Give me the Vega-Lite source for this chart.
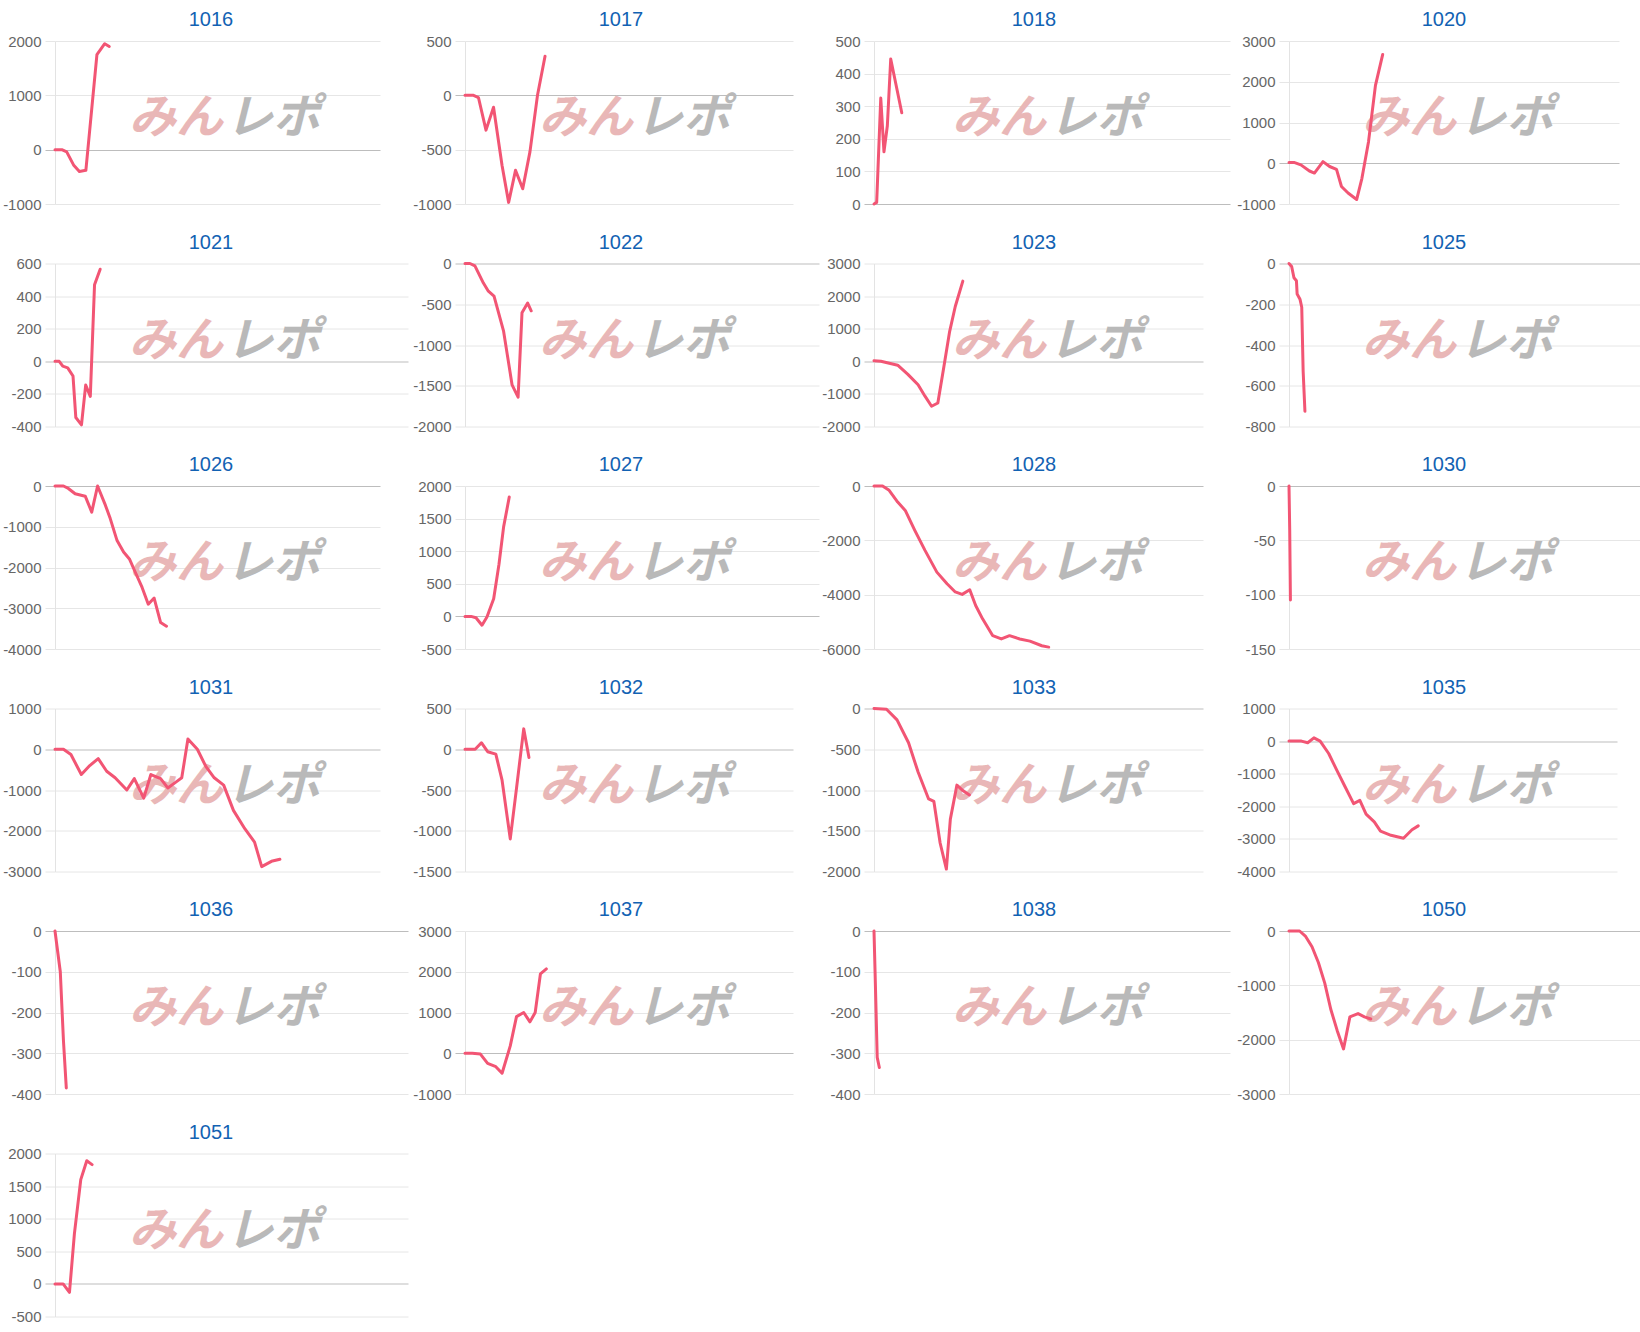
{
"$schema": "https://vega.github.io/schema/vega-lite/v6.json",
"padding": {"top": 10, "left": 0, "right": 0, "bottom": 0},
"background": "white",
"columns": 4,
"align": "each",
"spacing": {"row": 20.5, "column": 2},
"config": {
  "view": {"stroke": null},
  "font": "Liberation Sans",
  "title": {"fontSize": 20, "color": "#1262b3", "fontWeight": "normal", "font": "Liberation Sans", "baseline": "alphabetic", "offset": 4, "anchor": "middle", "frame": "group"},
  "line": {"color": "#f25574", "strokeWidth": 3, "strokeJoin": "round", "strokeCap": "round"},
  "text": {"font": "Noto Sans CJK JP", "fontSize": 47, "fontWeight": "bold", "fontStyle": "italic", "align": "center", "baseline": "middle"}
},
"concat": [
{"width": 325, "height": 163, "title": {"text": "1016", "dx": -6.5}, "resolve": {"axis": {"y": "independent"}},
 "layer": [
  {"data": {"values": [{"label": "みん"}]}, "mark": {"type": "text", "color": "#e9b7b7"}, "encoding": {"text": {"field": "label"}, "x": {"datum": 37.2, "type": "quantitative", "axis": null}, "y": {"datum": 560, "type": "quantitative", "axis": null}}},
  {"data": {"values": [{"label": "レポ"}]}, "mark": {"type": "text", "color": "#b9b9b9"}, "encoding": {"text": {"field": "label"}, "x": {"datum": 67.1, "type": "quantitative", "axis": null}, "y": {"datum": 560, "type": "quantitative", "axis": null}}},
  {"data": {"values": [{"x":0,"y":0},{"x":2.1,"y":0},{"x":3.6,"y":-40},{"x":5.7,"y":-280},{"x":7.5,"y":-400},{"x":9.5,"y":-380},{"x":12.9,"y":1750},{"x":15.3,"y":1950},{"x":16.7,"y":1900}]},
   "mark": {"type": "line"},
   "encoding": {"x": {"field": "x", "type": "quantitative", "scale": {"domain": [0, 100]}, "axis": null},
    "y": {"field": "y", "type": "quantitative", "scale": {"domain": [-1000, 2000], "nice": false, "zero": false},
     "axis": {"orient": "left", "title": null, "values": [-1000, 0, 1000, 2000], "labelExpr": "'' + datum.value", "grid": true, "gridColor": {"condition": {"test": "datum.value === 0", "value": "#bdbdbd"}, "value": "#e6e6e6"}, "tickColor": {"condition": {"test": "datum.value === 0", "value": "#bdbdbd"}, "value": "#e6e6e6"}, "tickSize": 10, "domainColor": "#e3e3e3", "labelFontSize": 15, "labelColor": "#666666", "labelPadding": 4, "labelFont": "Liberation Sans", "labelOverlap": false, "minExtent": 55, "maxExtent": 55}}}}
 ]},
{"width": 328, "height": 163, "title": {"text": "1017", "dx": -8}, "resolve": {"axis": {"y": "independent"}},
 "layer": [
  {"data": {"values": [{"label": "みん"}]}, "mark": {"type": "text", "color": "#e9b7b7"}, "encoding": {"text": {"field": "label"}, "x": {"datum": 36.9, "type": "quantitative", "axis": null}, "y": {"datum": -220, "type": "quantitative", "axis": null}}},
  {"data": {"values": [{"label": "レポ"}]}, "mark": {"type": "text", "color": "#b9b9b9"}, "encoding": {"text": {"field": "label"}, "x": {"datum": 66.5, "type": "quantitative", "axis": null}, "y": {"datum": -220, "type": "quantitative", "axis": null}}},
  {"data": {"values": [{"x":0,"y":0},{"x":2.6,"y":0},{"x":4.1,"y":-20},{"x":6.4,"y":-320},{"x":8.7,"y":-110},{"x":11.3,"y":-645},{"x":13.3,"y":-985},{"x":15.4,"y":-690},{"x":17.6,"y":-860},{"x":19.8,"y":-520},{"x":22.1,"y":0},{"x":24.4,"y":360}]},
   "mark": {"type": "line"},
   "encoding": {"x": {"field": "x", "type": "quantitative", "scale": {"domain": [0, 100]}, "axis": null},
    "y": {"field": "y", "type": "quantitative", "scale": {"domain": [-1000, 500], "nice": false, "zero": false},
     "axis": {"orient": "left", "title": null, "values": [-1000, -500, 0, 500], "labelExpr": "'' + datum.value", "grid": true, "gridColor": {"condition": {"test": "datum.value === 0", "value": "#bdbdbd"}, "value": "#e6e6e6"}, "tickColor": {"condition": {"test": "datum.value === 0", "value": "#bdbdbd"}, "value": "#e6e6e6"}, "tickSize": 10, "domainColor": "#e3e3e3", "labelFontSize": 15, "labelColor": "#666666", "labelPadding": 4, "labelFont": "Liberation Sans", "labelOverlap": false, "minExtent": 55, "maxExtent": 55}}}}
 ]},
{"width": 356, "height": 163, "title": {"text": "1018", "dx": -18}, "resolve": {"axis": {"y": "independent"}},
 "layer": [
  {"data": {"values": [{"label": "みん"}]}, "mark": {"type": "text", "color": "#e9b7b7"}, "encoding": {"text": {"field": "label"}, "x": {"datum": 35.1, "type": "quantitative", "axis": null}, "y": {"datum": 260, "type": "quantitative", "axis": null}}},
  {"data": {"values": [{"label": "レポ"}]}, "mark": {"type": "text", "color": "#b9b9b9"}, "encoding": {"text": {"field": "label"}, "x": {"datum": 62.4, "type": "quantitative", "axis": null}, "y": {"datum": 260, "type": "quantitative", "axis": null}}},
  {"data": {"values": [{"x":0,"y":0},{"x":0.75,"y":5},{"x":1.9,"y":325},{"x":2.8,"y":160},{"x":3.75,"y":240},{"x":4.7,"y":445},{"x":7.8,"y":280}]},
   "mark": {"type": "line"},
   "encoding": {"x": {"field": "x", "type": "quantitative", "scale": {"domain": [0, 100]}, "axis": null},
    "y": {"field": "y", "type": "quantitative", "scale": {"domain": [0, 500], "nice": false, "zero": false},
     "axis": {"orient": "left", "title": null, "values": [0, 100, 200, 300, 400, 500], "labelExpr": "'' + datum.value", "grid": true, "gridColor": {"condition": {"test": "datum.value === 0", "value": "#bdbdbd"}, "value": "#e6e6e6"}, "tickColor": {"condition": {"test": "datum.value === 0", "value": "#bdbdbd"}, "value": "#e6e6e6"}, "tickSize": 10, "domainColor": "#e3e3e3", "labelFontSize": 15, "labelColor": "#666666", "labelPadding": 4, "labelFont": "Liberation Sans", "labelOverlap": false, "minExtent": 50, "maxExtent": 50}}}}
 ]},
{"width": 330, "height": 163, "title": {"text": "1020", "dx": -10}, "resolve": {"axis": {"y": "independent"}},
 "layer": [
  {"data": {"values": [{"label": "みん"}]}, "mark": {"type": "text", "color": "#e9b7b7"}, "encoding": {"text": {"field": "label"}, "x": {"datum": 36.4, "type": "quantitative", "axis": null}, "y": {"datum": 1080, "type": "quantitative", "axis": null}}},
  {"data": {"values": [{"label": "レポ"}]}, "mark": {"type": "text", "color": "#b9b9b9"}, "encoding": {"text": {"field": "label"}, "x": {"datum": 65.8, "type": "quantitative", "axis": null}, "y": {"datum": 1080, "type": "quantitative", "axis": null}}},
  {"data": {"values": [{"x":0,"y":20},{"x":1.5,"y":20},{"x":3.6,"y":-40},{"x":6.2,"y":-190},{"x":7.7,"y":-240},{"x":10.3,"y":40},{"x":12.3,"y":-80},{"x":14.4,"y":-150},{"x":15.9,"y":-570},{"x":17.9,"y":-730},{"x":20.5,"y":-890},{"x":22.1,"y":-370},{"x":24.1,"y":530},{"x":26.2,"y":1910},{"x":28.4,"y":2670}]},
   "mark": {"type": "line"},
   "encoding": {"x": {"field": "x", "type": "quantitative", "scale": {"domain": [0, 100]}, "axis": null},
    "y": {"field": "y", "type": "quantitative", "scale": {"domain": [-1000, 3000], "nice": false, "zero": false},
     "axis": {"orient": "left", "title": null, "values": [-1000, 0, 1000, 2000, 3000], "labelExpr": "'' + datum.value", "grid": true, "gridColor": {"condition": {"test": "datum.value === 0", "value": "#bdbdbd"}, "value": "#e6e6e6"}, "tickColor": {"condition": {"test": "datum.value === 0", "value": "#bdbdbd"}, "value": "#e6e6e6"}, "tickSize": 10, "domainColor": "#e3e3e3", "labelFontSize": 15, "labelColor": "#666666", "labelPadding": 4, "labelFont": "Liberation Sans", "labelOverlap": false, "minExtent": 57, "maxExtent": 57}}}}
 ]},
{"width": 353, "height": 163, "title": {"text": "1021", "dx": -20.5}, "resolve": {"axis": {"y": "independent"}},
 "layer": [
  {"data": {"values": [{"label": "みん"}]}, "mark": {"type": "text", "color": "#e9b7b7"}, "encoding": {"text": {"field": "label"}, "x": {"datum": 34.3, "type": "quantitative", "axis": null}, "y": {"datum": 120, "type": "quantitative", "axis": null}}},
  {"data": {"values": [{"label": "レポ"}]}, "mark": {"type": "text", "color": "#b9b9b9"}, "encoding": {"text": {"field": "label"}, "x": {"datum": 61.8, "type": "quantitative", "axis": null}, "y": {"datum": 120, "type": "quantitative", "axis": null}}},
  {"data": {"values": [{"x":0,"y":0},{"x":1.2,"y":0},{"x":2.2,"y":-30},{"x":3.6,"y":-40},{"x":5.1,"y":-90},{"x":5.9,"y":-345},{"x":7.5,"y":-390},{"x":8.7,"y":-145},{"x":10.0,"y":-215},{"x":11.2,"y":470},{"x":12.8,"y":565}]},
   "mark": {"type": "line"},
   "encoding": {"x": {"field": "x", "type": "quantitative", "scale": {"domain": [0, 100]}, "axis": null},
    "y": {"field": "y", "type": "quantitative", "scale": {"domain": [-400, 600], "nice": false, "zero": false},
     "axis": {"orient": "left", "title": null, "values": [-400, -200, 0, 200, 400, 600], "labelExpr": "'' + datum.value", "grid": true, "gridColor": {"condition": {"test": "datum.value === 0", "value": "#bdbdbd"}, "value": "#e6e6e6"}, "tickColor": {"condition": {"test": "datum.value === 0", "value": "#bdbdbd"}, "value": "#e6e6e6"}, "tickSize": 10, "domainColor": "#e3e3e3", "labelFontSize": 15, "labelColor": "#666666", "labelPadding": 4, "labelFont": "Liberation Sans", "labelOverlap": false, "minExtent": 55, "maxExtent": 55}}}}
 ]},
{"width": 354, "height": 163, "title": {"text": "1022", "dx": -21}, "resolve": {"axis": {"y": "independent"}},
 "layer": [
  {"data": {"values": [{"label": "みん"}]}, "mark": {"type": "text", "color": "#e9b7b7"}, "encoding": {"text": {"field": "label"}, "x": {"datum": 34.2, "type": "quantitative", "axis": null}, "y": {"datum": -960, "type": "quantitative", "axis": null}}},
  {"data": {"values": [{"label": "レポ"}]}, "mark": {"type": "text", "color": "#b9b9b9"}, "encoding": {"text": {"field": "label"}, "x": {"datum": 61.6, "type": "quantitative", "axis": null}, "y": {"datum": -960, "type": "quantitative", "axis": null}}},
  {"data": {"values": [{"x":0,"y":0},{"x":1.4,"y":0},{"x":2.8,"y":-30},{"x":5.2,"y":-240},{"x":6.6,"y":-340},{"x":8.2,"y":-400},{"x":10.9,"y":-830},{"x":13.3,"y":-1490},{"x":15.0,"y":-1640},{"x":16.1,"y":-605},{"x":17.7,"y":-485},{"x":18.7,"y":-580}]},
   "mark": {"type": "line"},
   "encoding": {"x": {"field": "x", "type": "quantitative", "scale": {"domain": [0, 100]}, "axis": null},
    "y": {"field": "y", "type": "quantitative", "scale": {"domain": [-2000, 0], "nice": false, "zero": false},
     "axis": {"orient": "left", "title": null, "values": [-2000, -1500, -1000, -500, 0], "labelExpr": "'' + datum.value", "grid": true, "gridColor": {"condition": {"test": "datum.value === 0", "value": "#bdbdbd"}, "value": "#e6e6e6"}, "tickColor": {"condition": {"test": "datum.value === 0", "value": "#bdbdbd"}, "value": "#e6e6e6"}, "tickSize": 10, "domainColor": "#e3e3e3", "labelFontSize": 15, "labelColor": "#666666", "labelPadding": 4, "labelFont": "Liberation Sans", "labelOverlap": false, "minExtent": 55, "maxExtent": 55}}}}
 ]},
{"width": 329, "height": 163, "title": {"text": "1023", "dx": -4.5}, "resolve": {"axis": {"y": "independent"}},
 "layer": [
  {"data": {"values": [{"label": "みん"}]}, "mark": {"type": "text", "color": "#e9b7b7"}, "encoding": {"text": {"field": "label"}, "x": {"datum": 38.0, "type": "quantitative", "axis": null}, "y": {"datum": 600, "type": "quantitative", "axis": null}}},
  {"data": {"values": [{"label": "レポ"}]}, "mark": {"type": "text", "color": "#b9b9b9"}, "encoding": {"text": {"field": "label"}, "x": {"datum": 67.5, "type": "quantitative", "axis": null}, "y": {"datum": 600, "type": "quantitative", "axis": null}}},
  {"data": {"values": [{"x":0,"y":20},{"x":2.1,"y":0},{"x":7.2,"y":-120},{"x":10.3,"y":-400},{"x":13.4,"y":-720},{"x":15.5,"y":-1070},{"x":17.5,"y":-1380},{"x":19.4,"y":-1280},{"x":21.1,"y":-250},{"x":23.0,"y":920},{"x":24.7,"y":1680},{"x":27.0,"y":2460}]},
   "mark": {"type": "line"},
   "encoding": {"x": {"field": "x", "type": "quantitative", "scale": {"domain": [0, 100]}, "axis": null},
    "y": {"field": "y", "type": "quantitative", "scale": {"domain": [-2000, 3000], "nice": false, "zero": false},
     "axis": {"orient": "left", "title": null, "values": [-2000, -1000, 0, 1000, 2000, 3000], "labelExpr": "'' + datum.value", "grid": true, "gridColor": {"condition": {"test": "datum.value === 0", "value": "#bdbdbd"}, "value": "#e6e6e6"}, "tickColor": {"condition": {"test": "datum.value === 0", "value": "#bdbdbd"}, "value": "#e6e6e6"}, "tickSize": 10, "domainColor": "#e3e3e3", "labelFontSize": 15, "labelColor": "#666666", "labelPadding": 4, "labelFont": "Liberation Sans", "labelOverlap": false, "minExtent": 50, "maxExtent": 50}}}}
 ]},
{"width": 354, "height": 163, "title": {"text": "1025", "dx": -22}, "resolve": {"axis": {"y": "independent"}},
 "layer": [
  {"data": {"values": [{"label": "みん"}]}, "mark": {"type": "text", "color": "#e9b7b7"}, "encoding": {"text": {"field": "label"}, "x": {"datum": 33.9, "type": "quantitative", "axis": null}, "y": {"datum": -384, "type": "quantitative", "axis": null}}},
  {"data": {"values": [{"label": "レポ"}]}, "mark": {"type": "text", "color": "#b9b9b9"}, "encoding": {"text": {"field": "label"}, "x": {"datum": 61.3, "type": "quantitative", "axis": null}, "y": {"datum": -384, "type": "quantitative", "axis": null}}},
  {"data": {"values": [{"x":0,"y":0},{"x":0.75,"y":-15},{"x":1.4,"y":-70},{"x":2.1,"y":-85},{"x":2.3,"y":-150},{"x":3.1,"y":-175},{"x":3.6,"y":-215},{"x":4.0,"y":-530},{"x":4.5,"y":-725}]},
   "mark": {"type": "line"},
   "encoding": {"x": {"field": "x", "type": "quantitative", "scale": {"domain": [0, 100]}, "axis": null},
    "y": {"field": "y", "type": "quantitative", "scale": {"domain": [-800, 0], "nice": false, "zero": false},
     "axis": {"orient": "left", "title": null, "values": [-800, -600, -400, -200, 0], "labelExpr": "'' + datum.value", "grid": true, "gridColor": {"condition": {"test": "datum.value === 0", "value": "#bdbdbd"}, "value": "#e6e6e6"}, "tickColor": {"condition": {"test": "datum.value === 0", "value": "#bdbdbd"}, "value": "#e6e6e6"}, "tickSize": 10, "domainColor": "#e3e3e3", "labelFontSize": 15, "labelColor": "#666666", "labelPadding": 4, "labelFont": "Liberation Sans", "labelOverlap": false, "minExtent": 57, "maxExtent": 57}}}}
 ]},
{"width": 325, "height": 163, "title": {"text": "1026", "dx": -6.5}, "resolve": {"axis": {"y": "independent"}},
 "layer": [
  {"data": {"values": [{"label": "みん"}]}, "mark": {"type": "text", "color": "#e9b7b7"}, "encoding": {"text": {"field": "label"}, "x": {"datum": 37.2, "type": "quantitative", "axis": null}, "y": {"datum": -1920, "type": "quantitative", "axis": null}}},
  {"data": {"values": [{"label": "レポ"}]}, "mark": {"type": "text", "color": "#b9b9b9"}, "encoding": {"text": {"field": "label"}, "x": {"datum": 67.1, "type": "quantitative", "axis": null}, "y": {"datum": -1920, "type": "quantitative", "axis": null}}},
  {"data": {"values": [{"x":0,"y":0},{"x":2.6,"y":0},{"x":4.1,"y":-60},{"x":6.2,"y":-190},{"x":9.3,"y":-250},{"x":11.3,"y":-640},{"x":13.1,"y":0},{"x":15.5,"y":-470},{"x":17.0,"y":-800},{"x":19.1,"y":-1340},{"x":21.1,"y":-1620},{"x":22.9,"y":-1790},{"x":24.5,"y":-2080},{"x":26.8,"y":-2490},{"x":28.7,"y":-2900},{"x":30.5,"y":-2750},{"x":32.5,"y":-3350},{"x":34.3,"y":-3440}]},
   "mark": {"type": "line"},
   "encoding": {"x": {"field": "x", "type": "quantitative", "scale": {"domain": [0, 100]}, "axis": null},
    "y": {"field": "y", "type": "quantitative", "scale": {"domain": [-4000, 0], "nice": false, "zero": false},
     "axis": {"orient": "left", "title": null, "values": [-4000, -3000, -2000, -1000, 0], "labelExpr": "'' + datum.value", "grid": true, "gridColor": {"condition": {"test": "datum.value === 0", "value": "#bdbdbd"}, "value": "#e6e6e6"}, "tickColor": {"condition": {"test": "datum.value === 0", "value": "#bdbdbd"}, "value": "#e6e6e6"}, "tickSize": 10, "domainColor": "#e3e3e3", "labelFontSize": 15, "labelColor": "#666666", "labelPadding": 4, "labelFont": "Liberation Sans", "labelOverlap": false, "minExtent": 55, "maxExtent": 55}}}}
 ]},
{"width": 354, "height": 163, "title": {"text": "1027", "dx": -21}, "resolve": {"axis": {"y": "independent"}},
 "layer": [
  {"data": {"values": [{"label": "みん"}]}, "mark": {"type": "text", "color": "#e9b7b7"}, "encoding": {"text": {"field": "label"}, "x": {"datum": 34.2, "type": "quantitative", "axis": null}, "y": {"datum": 800, "type": "quantitative", "axis": null}}},
  {"data": {"values": [{"label": "レポ"}]}, "mark": {"type": "text", "color": "#b9b9b9"}, "encoding": {"text": {"field": "label"}, "x": {"datum": 61.6, "type": "quantitative", "axis": null}, "y": {"datum": 800, "type": "quantitative", "axis": null}}},
  {"data": {"values": [{"x":0,"y":0},{"x":1.7,"y":0},{"x":3.1,"y":-20},{"x":4.8,"y":-135},{"x":6.2,"y":-10},{"x":8.1,"y":270},{"x":9.6,"y":800},{"x":10.9,"y":1370},{"x":12.5,"y":1830}]},
   "mark": {"type": "line"},
   "encoding": {"x": {"field": "x", "type": "quantitative", "scale": {"domain": [0, 100]}, "axis": null},
    "y": {"field": "y", "type": "quantitative", "scale": {"domain": [-500, 2000], "nice": false, "zero": false},
     "axis": {"orient": "left", "title": null, "values": [-500, 0, 500, 1000, 1500, 2000], "labelExpr": "'' + datum.value", "grid": true, "gridColor": {"condition": {"test": "datum.value === 0", "value": "#bdbdbd"}, "value": "#e6e6e6"}, "tickColor": {"condition": {"test": "datum.value === 0", "value": "#bdbdbd"}, "value": "#e6e6e6"}, "tickSize": 10, "domainColor": "#e3e3e3", "labelFontSize": 15, "labelColor": "#666666", "labelPadding": 4, "labelFont": "Liberation Sans", "labelOverlap": false, "minExtent": 55, "maxExtent": 55}}}}
 ]},
{"width": 329, "height": 163, "title": {"text": "1028", "dx": -4.5}, "resolve": {"axis": {"y": "independent"}},
 "layer": [
  {"data": {"values": [{"label": "みん"}]}, "mark": {"type": "text", "color": "#e9b7b7"}, "encoding": {"text": {"field": "label"}, "x": {"datum": 38.0, "type": "quantitative", "axis": null}, "y": {"datum": -2880, "type": "quantitative", "axis": null}}},
  {"data": {"values": [{"label": "レポ"}]}, "mark": {"type": "text", "color": "#b9b9b9"}, "encoding": {"text": {"field": "label"}, "x": {"datum": 67.5, "type": "quantitative", "axis": null}, "y": {"datum": -2880, "type": "quantitative", "axis": null}}},
  {"data": {"values": [{"x":0,"y":0},{"x":2.6,"y":0},{"x":4.6,"y":-160},{"x":7.2,"y":-590},{"x":9.5,"y":-900},{"x":12.4,"y":-1630},{"x":15.5,"y":-2370},{"x":19.1,"y":-3170},{"x":22.2,"y":-3600},{"x":24.7,"y":-3900},{"x":26.8,"y":-3990},{"x":29.1,"y":-3820},{"x":30.9,"y":-4400},{"x":33.0,"y":-4890},{"x":36.1,"y":-5510},{"x":38.7,"y":-5630},{"x":41.2,"y":-5510},{"x":44.3,"y":-5630},{"x":47.4,"y":-5710},{"x":51.0,"y":-5880},{"x":53.1,"y":-5930}]},
   "mark": {"type": "line"},
   "encoding": {"x": {"field": "x", "type": "quantitative", "scale": {"domain": [0, 100]}, "axis": null},
    "y": {"field": "y", "type": "quantitative", "scale": {"domain": [-6000, 0], "nice": false, "zero": false},
     "axis": {"orient": "left", "title": null, "values": [-6000, -4000, -2000, 0], "labelExpr": "'' + datum.value", "grid": true, "gridColor": {"condition": {"test": "datum.value === 0", "value": "#bdbdbd"}, "value": "#e6e6e6"}, "tickColor": {"condition": {"test": "datum.value === 0", "value": "#bdbdbd"}, "value": "#e6e6e6"}, "tickSize": 10, "domainColor": "#e3e3e3", "labelFontSize": 15, "labelColor": "#666666", "labelPadding": 4, "labelFont": "Liberation Sans", "labelOverlap": false, "minExtent": 50, "maxExtent": 50}}}}
 ]},
{"width": 354, "height": 163, "title": {"text": "1030", "dx": -22}, "resolve": {"axis": {"y": "independent"}},
 "layer": [
  {"data": {"values": [{"label": "みん"}]}, "mark": {"type": "text", "color": "#e9b7b7"}, "encoding": {"text": {"field": "label"}, "x": {"datum": 33.9, "type": "quantitative", "axis": null}, "y": {"datum": -72, "type": "quantitative", "axis": null}}},
  {"data": {"values": [{"label": "レポ"}]}, "mark": {"type": "text", "color": "#b9b9b9"}, "encoding": {"text": {"field": "label"}, "x": {"datum": 61.3, "type": "quantitative", "axis": null}, "y": {"datum": -72, "type": "quantitative", "axis": null}}},
  {"data": {"values": [{"x":0,"y":0},{"x":0.2,"y":-40},{"x":0.4,"y":-105}]},
   "mark": {"type": "line"},
   "encoding": {"x": {"field": "x", "type": "quantitative", "scale": {"domain": [0, 100]}, "axis": null},
    "y": {"field": "y", "type": "quantitative", "scale": {"domain": [-150, 0], "nice": false, "zero": false},
     "axis": {"orient": "left", "title": null, "values": [-150, -100, -50, 0], "labelExpr": "'' + datum.value", "grid": true, "gridColor": {"condition": {"test": "datum.value === 0", "value": "#bdbdbd"}, "value": "#e6e6e6"}, "tickColor": {"condition": {"test": "datum.value === 0", "value": "#bdbdbd"}, "value": "#e6e6e6"}, "tickSize": 10, "domainColor": "#e3e3e3", "labelFontSize": 15, "labelColor": "#666666", "labelPadding": 4, "labelFont": "Liberation Sans", "labelOverlap": false, "minExtent": 57, "maxExtent": 57}}}}
 ]},
{"width": 325, "height": 163, "title": {"text": "1031", "dx": -6.5}, "resolve": {"axis": {"y": "independent"}},
 "layer": [
  {"data": {"values": [{"label": "みん"}]}, "mark": {"type": "text", "color": "#e9b7b7"}, "encoding": {"text": {"field": "label"}, "x": {"datum": 37.2, "type": "quantitative", "axis": null}, "y": {"datum": -920, "type": "quantitative", "axis": null}}},
  {"data": {"values": [{"label": "レポ"}]}, "mark": {"type": "text", "color": "#b9b9b9"}, "encoding": {"text": {"field": "label"}, "x": {"datum": 67.1, "type": "quantitative", "axis": null}, "y": {"datum": -920, "type": "quantitative", "axis": null}}},
  {"data": {"values": [{"x":0,"y":0},{"x":2.6,"y":0},{"x":4.9,"y":-130},{"x":8.1,"y":-620},{"x":10.7,"y":-400},{"x":13.3,"y":-230},{"x":15.9,"y":-540},{"x":18.5,"y":-700},{"x":22.1,"y":-1000},{"x":24.4,"y":-720},{"x":27.3,"y":-1200},{"x":29.5,"y":-620},{"x":32.5,"y":-720},{"x":34.7,"y":-950},{"x":37.3,"y":-800},{"x":39.0,"y":-700},{"x":40.9,"y":250},{"x":43.8,"y":0},{"x":46.4,"y":-420},{"x":49.0,"y":-700},{"x":51.9,"y":-880},{"x":54.9,"y":-1500},{"x":58.4,"y":-1950},{"x":61.4,"y":-2280},{"x":63.6,"y":-2880},{"x":66.6,"y":-2750},{"x":69.2,"y":-2700}]},
   "mark": {"type": "line"},
   "encoding": {"x": {"field": "x", "type": "quantitative", "scale": {"domain": [0, 100]}, "axis": null},
    "y": {"field": "y", "type": "quantitative", "scale": {"domain": [-3000, 1000], "nice": false, "zero": false},
     "axis": {"orient": "left", "title": null, "values": [-3000, -2000, -1000, 0, 1000], "labelExpr": "'' + datum.value", "grid": true, "gridColor": {"condition": {"test": "datum.value === 0", "value": "#bdbdbd"}, "value": "#e6e6e6"}, "tickColor": {"condition": {"test": "datum.value === 0", "value": "#bdbdbd"}, "value": "#e6e6e6"}, "tickSize": 10, "domainColor": "#e3e3e3", "labelFontSize": 15, "labelColor": "#666666", "labelPadding": 4, "labelFont": "Liberation Sans", "labelOverlap": false, "minExtent": 55, "maxExtent": 55}}}}
 ]},
{"width": 328, "height": 163, "title": {"text": "1032", "dx": -8}, "resolve": {"axis": {"y": "independent"}},
 "layer": [
  {"data": {"values": [{"label": "みん"}]}, "mark": {"type": "text", "color": "#e9b7b7"}, "encoding": {"text": {"field": "label"}, "x": {"datum": 36.9, "type": "quantitative", "axis": null}, "y": {"datum": -460, "type": "quantitative", "axis": null}}},
  {"data": {"values": [{"label": "レポ"}]}, "mark": {"type": "text", "color": "#b9b9b9"}, "encoding": {"text": {"field": "label"}, "x": {"datum": 66.5, "type": "quantitative", "axis": null}, "y": {"datum": -460, "type": "quantitative", "axis": null}}},
  {"data": {"values": [{"x":0,"y":0},{"x":3.1,"y":0},{"x":5.0,"y":80},{"x":6.9,"y":-30},{"x":9.4,"y":-60},{"x":11.3,"y":-380},{"x":13.8,"y":-1100},{"x":15.7,"y":-480},{"x":17.9,"y":250},{"x":19.5,"y":-100}]},
   "mark": {"type": "line"},
   "encoding": {"x": {"field": "x", "type": "quantitative", "scale": {"domain": [0, 100]}, "axis": null},
    "y": {"field": "y", "type": "quantitative", "scale": {"domain": [-1500, 500], "nice": false, "zero": false},
     "axis": {"orient": "left", "title": null, "values": [-1500, -1000, -500, 0, 500], "labelExpr": "'' + datum.value", "grid": true, "gridColor": {"condition": {"test": "datum.value === 0", "value": "#bdbdbd"}, "value": "#e6e6e6"}, "tickColor": {"condition": {"test": "datum.value === 0", "value": "#bdbdbd"}, "value": "#e6e6e6"}, "tickSize": 10, "domainColor": "#e3e3e3", "labelFontSize": 15, "labelColor": "#666666", "labelPadding": 4, "labelFont": "Liberation Sans", "labelOverlap": false, "minExtent": 55, "maxExtent": 55}}}}
 ]},
{"width": 329, "height": 163, "title": {"text": "1033", "dx": -4.5}, "resolve": {"axis": {"y": "independent"}},
 "layer": [
  {"data": {"values": [{"label": "みん"}]}, "mark": {"type": "text", "color": "#e9b7b7"}, "encoding": {"text": {"field": "label"}, "x": {"datum": 38.0, "type": "quantitative", "axis": null}, "y": {"datum": -960, "type": "quantitative", "axis": null}}},
  {"data": {"values": [{"label": "レポ"}]}, "mark": {"type": "text", "color": "#b9b9b9"}, "encoding": {"text": {"field": "label"}, "x": {"datum": 67.5, "type": "quantitative", "axis": null}, "y": {"datum": -960, "type": "quantitative", "axis": null}}},
  {"data": {"values": [{"x":0,"y":0},{"x":3.8,"y":-10},{"x":7.0,"y":-140},{"x":10.5,"y":-420},{"x":13.4,"y":-780},{"x":16.6,"y":-1110},{"x":18.2,"y":-1140},{"x":20.1,"y":-1650},{"x":22.0,"y":-1970},{"x":23.2,"y":-1360},{"x":25.2,"y":-940},{"x":27.1,"y":-1010},{"x":29.0,"y":-1060}]},
   "mark": {"type": "line"},
   "encoding": {"x": {"field": "x", "type": "quantitative", "scale": {"domain": [0, 100]}, "axis": null},
    "y": {"field": "y", "type": "quantitative", "scale": {"domain": [-2000, 0], "nice": false, "zero": false},
     "axis": {"orient": "left", "title": null, "values": [-2000, -1500, -1000, -500, 0], "labelExpr": "'' + datum.value", "grid": true, "gridColor": {"condition": {"test": "datum.value === 0", "value": "#bdbdbd"}, "value": "#e6e6e6"}, "tickColor": {"condition": {"test": "datum.value === 0", "value": "#bdbdbd"}, "value": "#e6e6e6"}, "tickSize": 10, "domainColor": "#e3e3e3", "labelFontSize": 15, "labelColor": "#666666", "labelPadding": 4, "labelFont": "Liberation Sans", "labelOverlap": false, "minExtent": 50, "maxExtent": 50}}}}
 ]},
{"width": 328, "height": 163, "title": {"text": "1035", "dx": -9}, "resolve": {"axis": {"y": "independent"}},
 "layer": [
  {"data": {"values": [{"label": "みん"}]}, "mark": {"type": "text", "color": "#e9b7b7"}, "encoding": {"text": {"field": "label"}, "x": {"datum": 36.6, "type": "quantitative", "axis": null}, "y": {"datum": -1400, "type": "quantitative", "axis": null}}},
  {"data": {"values": [{"label": "レポ"}]}, "mark": {"type": "text", "color": "#b9b9b9"}, "encoding": {"text": {"field": "label"}, "x": {"datum": 66.2, "type": "quantitative", "axis": null}, "y": {"datum": -1400, "type": "quantitative", "axis": null}}},
  {"data": {"values": [{"x":0,"y":0},{"x":3.8,"y":0},{"x":5.7,"y":-50},{"x":7.6,"y":100},{"x":9.5,"y":0},{"x":12.1,"y":-380},{"x":14.6,"y":-900},{"x":17.1,"y":-1400},{"x":19.7,"y":-1920},{"x":21.6,"y":-1820},{"x":23.5,"y":-2240},{"x":26.0,"y":-2480},{"x":27.9,"y":-2760},{"x":31.1,"y":-2890},{"x":34.9,"y":-2980},{"x":37.5,"y":-2720},{"x":39.4,"y":-2600}]},
   "mark": {"type": "line"},
   "encoding": {"x": {"field": "x", "type": "quantitative", "scale": {"domain": [0, 100]}, "axis": null},
    "y": {"field": "y", "type": "quantitative", "scale": {"domain": [-4000, 1000], "nice": false, "zero": false},
     "axis": {"orient": "left", "title": null, "values": [-4000, -3000, -2000, -1000, 0, 1000], "labelExpr": "'' + datum.value", "grid": true, "gridColor": {"condition": {"test": "datum.value === 0", "value": "#bdbdbd"}, "value": "#e6e6e6"}, "tickColor": {"condition": {"test": "datum.value === 0", "value": "#bdbdbd"}, "value": "#e6e6e6"}, "tickSize": 10, "domainColor": "#e3e3e3", "labelFontSize": 15, "labelColor": "#666666", "labelPadding": 4, "labelFont": "Liberation Sans", "labelOverlap": false, "minExtent": 57, "maxExtent": 57}}}}
 ]},
{"width": 353, "height": 163, "title": {"text": "1036", "dx": -20.5}, "resolve": {"axis": {"y": "independent"}},
 "layer": [
  {"data": {"values": [{"label": "みん"}]}, "mark": {"type": "text", "color": "#e9b7b7"}, "encoding": {"text": {"field": "label"}, "x": {"datum": 34.3, "type": "quantitative", "axis": null}, "y": {"datum": -192, "type": "quantitative", "axis": null}}},
  {"data": {"values": [{"label": "レポ"}]}, "mark": {"type": "text", "color": "#b9b9b9"}, "encoding": {"text": {"field": "label"}, "x": {"datum": 61.8, "type": "quantitative", "axis": null}, "y": {"datum": -192, "type": "quantitative", "axis": null}}},
  {"data": {"values": [{"x":0,"y":0},{"x":1.5,"y":-100},{"x":2.4,"y":-270},{"x":3.2,"y":-385}]},
   "mark": {"type": "line"},
   "encoding": {"x": {"field": "x", "type": "quantitative", "scale": {"domain": [0, 100]}, "axis": null},
    "y": {"field": "y", "type": "quantitative", "scale": {"domain": [-400, 0], "nice": false, "zero": false},
     "axis": {"orient": "left", "title": null, "values": [-400, -300, -200, -100, 0], "labelExpr": "'' + datum.value", "grid": true, "gridColor": {"condition": {"test": "datum.value === 0", "value": "#bdbdbd"}, "value": "#e6e6e6"}, "tickColor": {"condition": {"test": "datum.value === 0", "value": "#bdbdbd"}, "value": "#e6e6e6"}, "tickSize": 10, "domainColor": "#e3e3e3", "labelFontSize": 15, "labelColor": "#666666", "labelPadding": 4, "labelFont": "Liberation Sans", "labelOverlap": false, "minExtent": 55, "maxExtent": 55}}}}
 ]},
{"width": 328, "height": 163, "title": {"text": "1037", "dx": -8}, "resolve": {"axis": {"y": "independent"}},
 "layer": [
  {"data": {"values": [{"label": "みん"}]}, "mark": {"type": "text", "color": "#e9b7b7"}, "encoding": {"text": {"field": "label"}, "x": {"datum": 36.9, "type": "quantitative", "axis": null}, "y": {"datum": 1080, "type": "quantitative", "axis": null}}},
  {"data": {"values": [{"label": "レポ"}]}, "mark": {"type": "text", "color": "#b9b9b9"}, "encoding": {"text": {"field": "label"}, "x": {"datum": 66.5, "type": "quantitative", "axis": null}, "y": {"datum": 1080, "type": "quantitative", "axis": null}}},
  {"data": {"values": [{"x":0,"y":0},{"x":2.2,"y":0},{"x":4.7,"y":-20},{"x":6.9,"y":-250},{"x":9.4,"y":-330},{"x":11.3,"y":-490},{"x":13.8,"y":180},{"x":15.7,"y":900},{"x":17.9,"y":1000},{"x":19.8,"y":770},{"x":21.4,"y":1000},{"x":23.0,"y":1950},{"x":24.8,"y":2070}]},
   "mark": {"type": "line"},
   "encoding": {"x": {"field": "x", "type": "quantitative", "scale": {"domain": [0, 100]}, "axis": null},
    "y": {"field": "y", "type": "quantitative", "scale": {"domain": [-1000, 3000], "nice": false, "zero": false},
     "axis": {"orient": "left", "title": null, "values": [-1000, 0, 1000, 2000, 3000], "labelExpr": "'' + datum.value", "grid": true, "gridColor": {"condition": {"test": "datum.value === 0", "value": "#bdbdbd"}, "value": "#e6e6e6"}, "tickColor": {"condition": {"test": "datum.value === 0", "value": "#bdbdbd"}, "value": "#e6e6e6"}, "tickSize": 10, "domainColor": "#e3e3e3", "labelFontSize": 15, "labelColor": "#666666", "labelPadding": 4, "labelFont": "Liberation Sans", "labelOverlap": false, "minExtent": 55, "maxExtent": 55}}}}
 ]},
{"width": 356, "height": 163, "title": {"text": "1038", "dx": -18}, "resolve": {"axis": {"y": "independent"}},
 "layer": [
  {"data": {"values": [{"label": "みん"}]}, "mark": {"type": "text", "color": "#e9b7b7"}, "encoding": {"text": {"field": "label"}, "x": {"datum": 35.1, "type": "quantitative", "axis": null}, "y": {"datum": -192, "type": "quantitative", "axis": null}}},
  {"data": {"values": [{"label": "レポ"}]}, "mark": {"type": "text", "color": "#b9b9b9"}, "encoding": {"text": {"field": "label"}, "x": {"datum": 62.4, "type": "quantitative", "axis": null}, "y": {"datum": -192, "type": "quantitative", "axis": null}}},
  {"data": {"values": [{"x":0,"y":0},{"x":0.3,"y":-100},{"x":0.9,"y":-310},{"x":1.5,"y":-335}]},
   "mark": {"type": "line"},
   "encoding": {"x": {"field": "x", "type": "quantitative", "scale": {"domain": [0, 100]}, "axis": null},
    "y": {"field": "y", "type": "quantitative", "scale": {"domain": [-400, 0], "nice": false, "zero": false},
     "axis": {"orient": "left", "title": null, "values": [-400, -300, -200, -100, 0], "labelExpr": "'' + datum.value", "grid": true, "gridColor": {"condition": {"test": "datum.value === 0", "value": "#bdbdbd"}, "value": "#e6e6e6"}, "tickColor": {"condition": {"test": "datum.value === 0", "value": "#bdbdbd"}, "value": "#e6e6e6"}, "tickSize": 10, "domainColor": "#e3e3e3", "labelFontSize": 15, "labelColor": "#666666", "labelPadding": 4, "labelFont": "Liberation Sans", "labelOverlap": false, "minExtent": 50, "maxExtent": 50}}}}
 ]},
{"width": 354, "height": 163, "title": {"text": "1050", "dx": -22}, "resolve": {"axis": {"y": "independent"}},
 "layer": [
  {"data": {"values": [{"label": "みん"}]}, "mark": {"type": "text", "color": "#e9b7b7"}, "encoding": {"text": {"field": "label"}, "x": {"datum": 33.9, "type": "quantitative", "axis": null}, "y": {"datum": -1440, "type": "quantitative", "axis": null}}},
  {"data": {"values": [{"label": "レポ"}]}, "mark": {"type": "text", "color": "#b9b9b9"}, "encoding": {"text": {"field": "label"}, "x": {"datum": 61.3, "type": "quantitative", "axis": null}, "y": {"datum": -1440, "type": "quantitative", "axis": null}}},
  {"data": {"values": [{"x":0,"y":0},{"x":3.0,"y":0},{"x":4.7,"y":-100},{"x":6.5,"y":-290},{"x":8.3,"y":-580},{"x":10.1,"y":-960},{"x":11.8,"y":-1440},{"x":13.6,"y":-1830},{"x":15.4,"y":-2170},{"x":17.2,"y":-1580},{"x":19.5,"y":-1520},{"x":21.3,"y":-1580},{"x":23.1,"y":-1620}]},
   "mark": {"type": "line"},
   "encoding": {"x": {"field": "x", "type": "quantitative", "scale": {"domain": [0, 100]}, "axis": null},
    "y": {"field": "y", "type": "quantitative", "scale": {"domain": [-3000, 0], "nice": false, "zero": false},
     "axis": {"orient": "left", "title": null, "values": [-3000, -2000, -1000, 0], "labelExpr": "'' + datum.value", "grid": true, "gridColor": {"condition": {"test": "datum.value === 0", "value": "#bdbdbd"}, "value": "#e6e6e6"}, "tickColor": {"condition": {"test": "datum.value === 0", "value": "#bdbdbd"}, "value": "#e6e6e6"}, "tickSize": 10, "domainColor": "#e3e3e3", "labelFontSize": 15, "labelColor": "#666666", "labelPadding": 4, "labelFont": "Liberation Sans", "labelOverlap": false, "minExtent": 57, "maxExtent": 57}}}}
 ]},
{"width": 353, "height": 163, "title": {"text": "1051", "dx": -20.5}, "resolve": {"axis": {"y": "independent"}},
 "layer": [
  {"data": {"values": [{"label": "みん"}]}, "mark": {"type": "text", "color": "#e9b7b7"}, "encoding": {"text": {"field": "label"}, "x": {"datum": 34.3, "type": "quantitative", "axis": null}, "y": {"datum": 800, "type": "quantitative", "axis": null}}},
  {"data": {"values": [{"label": "レポ"}]}, "mark": {"type": "text", "color": "#b9b9b9"}, "encoding": {"text": {"field": "label"}, "x": {"datum": 61.8, "type": "quantitative", "axis": null}, "y": {"datum": 800, "type": "quantitative", "axis": null}}},
  {"data": {"values": [{"x":0,"y":0},{"x":2.3,"y":0},{"x":4.1,"y":-130},{"x":5.5,"y":770},{"x":7.3,"y":1600},{"x":9.0,"y":1890},{"x":10.5,"y":1830}]},
   "mark": {"type": "line"},
   "encoding": {"x": {"field": "x", "type": "quantitative", "scale": {"domain": [0, 100]}, "axis": null},
    "y": {"field": "y", "type": "quantitative", "scale": {"domain": [-500, 2000], "nice": false, "zero": false},
     "axis": {"orient": "left", "title": null, "values": [-500, 0, 500, 1000, 1500, 2000], "labelExpr": "'' + datum.value", "grid": true, "gridColor": {"condition": {"test": "datum.value === 0", "value": "#bdbdbd"}, "value": "#e6e6e6"}, "tickColor": {"condition": {"test": "datum.value === 0", "value": "#bdbdbd"}, "value": "#e6e6e6"}, "tickSize": 10, "domainColor": "#e3e3e3", "labelFontSize": 15, "labelColor": "#666666", "labelPadding": 4, "labelFont": "Liberation Sans", "labelOverlap": false, "minExtent": 55, "maxExtent": 55}}}}
 ]}
]
}
